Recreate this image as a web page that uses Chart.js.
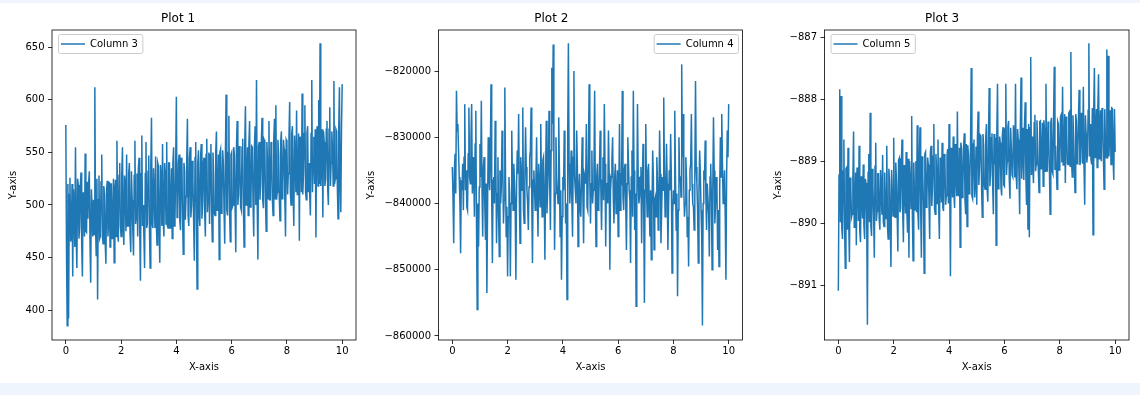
<!DOCTYPE html>
<html><head><meta charset="utf-8">
<script src="https://cdn.jsdelivr.net/npm/chart.js@4.4.0/dist/chart.umd.min.js"></script>
<style>
html,body{margin:0;padding:0;width:1140px;height:395px;overflow:hidden;background:#eef5fc;}
#band{position:absolute;left:0;top:3px;width:1140px;height:380px;background:#fff;}
canvas{position:absolute;top:0;}
</style></head><body>
<div id="band"></div>
<canvas id="c1" width="370" height="395" style="left:0px"></canvas>
<canvas id="c2" width="395" height="395" style="left:360px"></canvas>
<canvas id="c3" width="385" height="395" style="left:755px"></canvas>
<script>
const plotTitles = ['Plot 1', 'Plot 2', 'Plot 3'];
const seriesLabels = ['Column 3', 'Column 4', 'Column 5'];
const xTicks = [0, 2, 4, 6, 8, 10];
const yTicks1 = [400, 450, 500, 550, 600, 650];
const yTicks2 = [-860000, -850000, -840000, -830000, -820000];
const yTicks3 = [-891, -890, -889, -888, -887];

const col3 = [
576,455,385,520,392,510,526,465,470,520,432,515,500,460,555,470,440,525,519,468,478,518,531,462,432,512,502,470,549,475,474,522,487,520,532,465,426,515,498,470,
505,472,612,480,452,525,410,505,528,468,470,522,548,470,463,518,510,465,444,515,523,470,485,522,460,520,520,468,478,525,445,515,524,470,561,475,465,528,540,480,
470,530,555,478,462,528,520,475,548,480,480,530,540,472,455,532,505,475,452,528,561,482,490,530,470,535,545,475,428,530,566,480,500,470,440,530,560,478,482,532,
547,480,440,535,583,482,478,535,510,478,546,482,462,540,537,478,445,538,525,480,558,485,470,540,530,482,560,480,478,540,540,478,500,535,468,540,555,480,485,535,
603,488,495,540,548,485,476,545,540,487,453,540,532,486,508,542,582,490,480,545,555,488,500,542,522,485,447,545,560,488,420,540,552,490,480,545,558,487,500,540,
545,492,470,548,563,493,510,550,482,548,558,495,465,550,530,492,490,550,570,495,503,548,448,550,553,492,505,552,540,495,463,550,605,495,490,550,585,494,465,548,
550,498,500,555,548,500,455,555,580,500,510,556,540,498,495,555,563,500,460,558,594,500,520,555,490,558,580,498,505,556,555,500,470,555,575,500,619,502,448,556,
560,505,520,560,583,505,497,562,560,505,475,560,540,506,580,505,505,560,550,505,490,562,582,506,595,505,512,562,548,506,485,560,570,506,520,562,553,505,470,562,
560,510,530,565,598,512,500,568,575,512,480,566,548,512,590,510,520,568,466,565,560,512,606,510,530,568,595,512,505,568,575,512,540,510,490,568,619,512,545,565,
520,572,469,570,575,518,600,520,654,518,540,572,488,570,560,518,525,572,580,516,500,572,593,518,540,570,555,518,618,520,525,572,570,518,487,572,612,520,493,572,615
];

const col4 = [
-834500,-839000,-846000,-835000,-832500,-838500,-823000,-829000,-828000,-832000,-836000,-840000,-847500,-836500,-838000,-834000,-841000,-833000,-825000,-838000,-835000,-840500,-841000,-832500,-825500,-836000,-837000,-830000,-825000,-838500,-833000,-835500,-842000,-831000,-826000,-843000,-856000,-840000,-846500,-837500,
-831000,-836000,-824500,-838000,-845000,-834500,-833000,-840000,-845500,-837000,-853500,-841000,-830000,-835500,-838000,-833000,-822000,-839000,-849000,-836500,-836000,-840000,-827500,-834000,-846000,-838500,-833000,-842000,-848000,-835000,-840000,-837500,-829000,-833500,-843000,-839500,-822500,-836000,-845000,-840500,
-851000,-842000,-836000,-838500,-851000,-840000,-829000,-836000,-841000,-834000,-837000,-840500,-851500,-837000,-832000,-835500,-826500,-839000,-846000,-833000,-835000,-838000,-825500,-841000,-843000,-836000,-828500,-834500,-838000,-840000,-844000,-837500,-833000,-832000,-825500,-839500,-849000,-836500,-835000,-838000,
-841000,-836500,-830000,-839000,-845000,-834000,-836000,-840500,-828000,-837000,-842000,-833500,-833000,-839000,-848500,-836000,-827500,-841500,-838000,-834000,-826000,-837500,-844000,-832000,-819500,-828000,-816000,-833000,-847000,-838500,-830000,-836000,-838000,-840000,-827000,-835000,-845000,-838000,-851500,-842000,
-836000,-838000,-829000,-835000,-843000,-840000,-854500,-830000,-815800,-834000,-840000,-837500,-832000,-839500,-845000,-833000,-820000,-836000,-838000,-840000,-829000,-834500,-846500,-838000,-835500,-841000,-842000,-836000,-830000,-839000,-846000,-835500,-836000,-837000,-828000,-840500,-841000,-833000,-822000,-836500,
-843000,-837000,-832000,-840000,-838000,-835000,-823000,-838500,-846500,-836000,-834000,-841000,-840000,-834500,-829000,-838000,-844000,-836500,-833000,-839500,-825000,-834000,-846500,-837000,-837000,-840000,-829000,-835500,-850000,-838000,-836000,-833500,-830000,-839000,-843000,-836000,-834000,-841500,-839000,-835000,
-845000,-838000,-828000,-841000,-836000,-836500,-823000,-839000,-841000,-835000,-834000,-840000,-847000,-837000,-830000,-834000,-838000,-839500,-849000,-836000,-832000,-842000,-823000,-835000,-844000,-838500,-855500,-841000,-825000,-836000,-840000,-839000,-836000,-834500,-846000,-837500,-831000,-840500,-855000,-838000,
-828000,-837500,-842000,-835000,-834000,-840000,-845000,-838000,-848500,-841000,-832000,-836000,-847000,-839500,-839000,-842000,-833000,-837000,-844000,-840000,-829000,-835500,-846000,-841000,-836000,-838000,-824000,-835000,-842000,-839000,-831000,-837000,-847000,-840500,-835000,-838000,-829500,-836000,-850500,-841500,
-838000,-840000,-826000,-836000,-844000,-838500,-854000,-841000,-830000,-836000,-836000,-839000,-819000,-833000,-826500,-837500,-842000,-840000,-833000,-836500,-845000,-842000,-849500,-838000,-835000,-834000,-826500,-837000,-840000,-840500,-844000,-836000,-821500,-834500,-837000,-841000,-849000,-838000,-832000,-835500,
-841000,-845000,-858400,-840000,-835000,-836500,-830500,-839000,-844000,-837000,-837000,-841500,-848000,-836000,-834000,-839500,-850000,-838000,-827000,-835000,-843000,-840000,-836000,-837500,-847000,-841000,-849500,-838000,-830000,-836000,-826500,-834000,-840000,-838500,-835000,-842000,-851500,-836000,-829000,-833000,-825000
];

const col5 = [
-891.08,-889.22,-887.84,-889.98,-887.95,-890.08,-890.25,-889.16,-888.65,-890.02,-890.72,-889.12,-889.10,-890.10,-888.78,-889.94,-890.62,-889.26,-889.40,-889.90,-889.85,-889.30,-888.52,-890.06,-889.95,-889.18,-890.35,-889.10,-889.20,-889.96,-888.75,-890.12,-890.30,-889.24,-889.55,-889.92,-889.05,-890.04,-890.25,-889.28,
-889.35,-889.92,-891.63,-889.18,-888.88,-889.98,-888.22,-890.04,-890.20,-889.12,-889.40,-889.90,-890.55,-889.08,-888.70,-889.96,-889.80,-889.20,-889.20,-889.92,-890.10,-889.14,-889.45,-889.86,-888.90,-889.98,-890.05,-889.18,-889.60,-889.92,-888.75,-890.04,-890.25,-889.12,-889.30,-889.98,-890.70,-889.14,-889.50,-889.88,
-888.62,-889.76,-889.90,-889.02,-889.30,-889.84,-890.45,-888.98,-888.95,-889.82,-889.75,-889.04,-888.65,-889.78,-890.30,-889.06,-889.45,-889.84,-888.85,-889.80,-890.15,-888.96,-890.55,-889.00,-889.25,-889.76,-888.27,-889.88,-890.60,-889.02,-889.50,-889.78,-889.00,-889.82,-888.42,-889.84,-890.10,-888.98,-888.45,-889.76,
-890.55,-888.92,-889.20,-889.68,-890.80,-888.88,-888.85,-889.74,-889.60,-888.94,-889.05,-889.66,-890.25,-888.86,-888.75,-889.72,-889.45,-888.92,-888.40,-889.76,-889.85,-888.88,-889.15,-889.68,-888.65,-889.72,-890.25,-888.94,-889.30,-889.66,-888.70,-889.74,-889.80,-888.88,-889.00,-889.70,-889.55,-888.92,-888.80,-889.68,
-888.40,-889.52,-890.85,-888.78,-889.10,-889.58,-888.60,-889.50,-889.75,-888.72,-889.20,-889.56,-888.20,-889.54,-889.55,-888.78,-890.38,-888.70,-888.80,-889.58,-889.40,-888.76,-888.55,-889.62,-889.85,-888.72,-890.05,-888.74,-888.90,-889.52,-889.30,-888.78,-887.50,-889.56,-889.60,-888.72,-888.65,-889.58,-889.35,-888.76,
-889.70,-888.62,-888.20,-889.38,-889.10,-888.58,-888.60,-889.42,-889.90,-888.56,-888.75,-889.38,-889.45,-888.62,-888.40,-889.44,-889.65,-888.58,-887.82,-889.40,-889.20,-888.62,-888.55,-889.38,-889.85,-888.56,-889.05,-888.62,-890.35,-888.58,-887.75,-889.44,-889.30,-888.60,-888.70,-889.42,-889.55,-888.58,-888.45,-889.38,
-889.40,-888.48,-887.75,-889.22,-889.00,-888.44,-888.35,-889.28,-889.60,-888.46,-888.80,-889.22,-889.25,-888.42,-888.55,-889.26,-887.75,-889.24,-889.45,-888.48,-888.65,-889.22,-889.85,-888.44,-887.65,-889.28,-888.90,-888.46,-889.30,-888.42,-888.05,-889.24,-889.70,-888.48,-890.10,-888.40,-890.22,-888.46,-887.32,-889.22,
-888.60,-889.12,-889.35,-888.38,-888.25,-889.16,-889.05,-888.34,-888.70,-889.14,-889.50,-888.36,-888.35,-889.12,-888.95,-888.38,-889.40,-888.34,-888.50,-889.16,-887.75,-889.14,-889.15,-888.36,-888.60,-889.12,-889.85,-888.38,-888.30,-889.16,-889.20,-888.34,-887.48,-889.14,-888.75,-889.12,-889.45,-888.36,-888.40,-889.14,
-889.10,-888.28,-888.25,-889.02,-887.80,-889.06,-888.95,-888.24,-889.35,-888.28,-888.50,-889.04,-889.05,-888.22,-888.20,-889.08,-887.24,-889.02,-889.25,-888.26,-888.60,-889.06,-889.50,-888.24,-888.35,-889.04,-888.85,-888.28,-887.85,-889.06,-889.00,-888.22,-888.45,-889.04,-887.80,-889.08,-889.70,-888.26,-888.55,-889.02,
-888.90,-888.18,-887.10,-888.92,-888.40,-888.96,-889.05,-888.14,-890.18,-888.18,-887.50,-888.94,-888.60,-888.16,-889.10,-888.12,-887.60,-888.96,-888.45,-888.18,-889.00,-888.14,-888.20,-888.92,-889.45,-888.16,-888.70,-888.94,-887.20,-888.96,-887.30,-888.92,-888.55,-888.18,-889.05,-888.14,-888.15,-888.94,-889.30,-888.16,-888.85
];

Chart.defaults.font.family = "'DejaVu Sans', sans-serif";
Chart.defaults.color = '#000';

const fmt = v => String(v).replace('-', '\u2212');

const framePlugin = {
  id: 'frame',
  afterLayout(chart, args, opts) {
    const lg = chart.legend, ca = chart.chartArea;
    if (!lg || !lg.legendHitBoxes || !lg.legendHitBoxes.length) return;
    const pad = lg.options.labels.padding;
    const w = lg.legendHitBoxes[0].width;
    lg.top = ca.top; lg.bottom = ca.bottom; lg.height = ca.bottom - ca.top;
    lg.left = opts.side === 'right' ? ca.right - w - 2 * pad : ca.left;
    lg.right = lg.left + w + 2 * pad; lg.width = w + 2 * pad;
  },
  beforeDraw(chart, args, opts) {
    const lg = chart.legend;
    if (!lg || !lg.legendHitBoxes || !lg.legendHitBoxes.length) return;
    const pad = lg.options.labels.padding;
    const w = lg.legendHitBoxes[0].width;
    const fs = lg.options.labels.font.size;
    const x = lg.left + pad - 2.5, yc = lg.top + pad + fs / 2;
    const bw = w + 7.5, bh = 19, y = yc - bh / 2, r = 2;
    const ctx = chart.ctx;
    ctx.save();
    ctx.beginPath();
    ctx.moveTo(x + r, y);
    ctx.arcTo(x + bw, y, x + bw, y + bh, r);
    ctx.arcTo(x + bw, y + bh, x, y + bh, r);
    ctx.arcTo(x, y + bh, x, y, r);
    ctx.arcTo(x, y, x + bw, y, r);
    ctx.closePath();
    ctx.fillStyle = 'rgba(255,255,255,0.8)';
    ctx.fill();
    ctx.strokeStyle = '#cccccc';
    ctx.lineWidth = 1;
    ctx.stroke();
    ctx.restore();
  },
  afterDraw(chart) {
    const ca = chart.chartArea, ctx = chart.ctx;
    ctx.save();
    ctx.strokeStyle = '#000';
    ctx.lineWidth = 0.8;
    ctx.strokeRect(ca.left, ca.top, ca.right - ca.left, ca.bottom - ca.top);
    ctx.restore();
  }
};

function makeChart(id, title, label, values, yTicks, yMin, yMax, cfg) {
  const pts = values.map((v, i) => ({ x: i * 10 / (values.length - 1), y: v }));
  return new Chart(document.getElementById(id), {
    type: 'line',
    data: { datasets: [{
      label: label, data: pts,
      borderColor: '#1f77b4', backgroundColor: '#1f77b4',
      borderWidth: 1.5, pointRadius: 0, pointHoverRadius: 0, fill: false, tension: 0
    }]},
    options: {
      responsive: false, animation: false, events: [],
      layout: { padding: { left: 0, right: cfg.right, top: 0, bottom: 22 } },
      plugins: {
        title: { display: true, text: title, font: { size: 12, weight: 'normal' }, color: '#000',
                 padding: { top: 11.8, bottom: 3.8 } },
        legend: { display: true, position: 'chartArea', align: 'start',
          labels: { usePointStyle: true, pointStyle: 'line', pointStyleWidth: 24, padding: 9,
                    font: { size: 10 }, color: '#000' } },
        tooltip: { enabled: false },
        frame: { side: cfg.side }
      },
      scales: {
        x: {
          type: 'linear', min: -0.5, max: 10.5,
          afterBuildTicks: s => { s.ticks = xTicks.map(v => ({ value: v })); },
          afterFit: s => { s.height = 33; },
          ticks: { autoSkip: false, padding: 1, font: { size: 10 }, color: '#000', callback: v => fmt(v), maxRotation: 0 },
          grid: { drawOnChartArea: false, drawTicks: true, tickLength: 4, color: '#000', lineWidth: 0.8 },
          border: { display: false },
          title: { display: true, text: 'X-axis', font: { size: 10 }, color: '#000', padding: { top: 0, bottom: 0 } }
        },
        y: {
          type: 'linear', min: yMin, max: yMax,
          afterBuildTicks: s => { s.ticks = yTicks.map(v => ({ value: v })); },
          afterFit: s => { s.width = cfg.yWidth; },
          ticks: { autoSkip: false, padding: 3.5, font: { size: 10 }, color: '#000', callback: v => fmt(v) },
          grid: { drawOnChartArea: false, drawTicks: true, tickLength: 4, color: '#000', lineWidth: 0.8 },
          border: { display: false },
          title: { display: true, text: 'Y-axis', font: { size: 10 }, color: '#000', padding: { top: cfg.yTitlePad, bottom: 0 } }
        }
      }
    },
    plugins: [framePlugin]
  });
}

makeChart('c1', plotTitles[0], seriesLabels[0], col3, yTicks1, 371.5, 666.5,
  { right: 14, yWidth: 52, yTitlePad: 7.3, side: 'left' });
makeChart('c2', plotTitles[1], seriesLabels[1], col4, yTicks2, -860604, -813811,
  { right: 12.5, yWidth: 78.5, yTitlePad: 5.3, side: 'right' });
makeChart('c3', plotTitles[2], seriesLabels[2], col5, yTicks3, -891.874, -886.887,
  { right: 11, yWidth: 69.5, yTitlePad: 17.3, side: 'left' });
</script>
</body></html>
